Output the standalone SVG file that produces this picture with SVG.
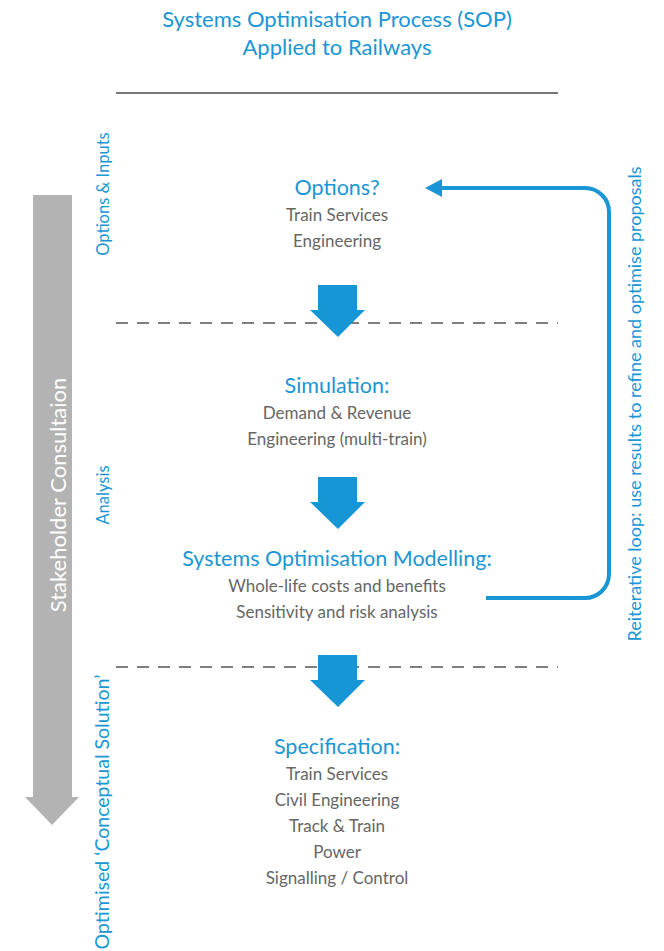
<svg xmlns="http://www.w3.org/2000/svg" width="664" height="951" viewBox="0 0 664 951">
<defs>
<style>
.t{font-family:Lato,"Open Sans","Liberation Sans",sans-serif;text-anchor:middle}
.h{fill:#1a96d4;font-size:21.5px}
.b{fill:#666;font-size:17px}
.side{fill:#1a96d4;font-size:16.5px}
.dash{stroke:#555;stroke-width:1.5;stroke-dasharray:12 9;fill:none}
.barrow{fill:#1796d5}
</style>
</defs>
<rect width="664" height="951" fill="#fff"/>
<g id="title">
<text class="t h" x="337" y="27" style="font-size:22px">Systems Optimisation Process (SOP)</text>
<text class="t h" x="337" y="55" style="font-size:22px">Applied to Railways</text>
</g>
<line x1="116" y1="93" x2="558" y2="93" stroke="#777" stroke-width="2"/>
<line class="dash" x1="116" y1="323" x2="558" y2="323"/>
<line class="dash" x1="116" y1="667" x2="558" y2="667"/>
<g id="stakeholder">
<path d="M33,195 H72 V797 H79 L52,825 L25,797 H33 Z" fill="#b3b3b4"/>
<text class="t" transform="translate(66,495) rotate(-90)" fill="#fff" font-size="22">Stakeholder Consultaion</text>
</g>
<g id="labels">
<text class="t side" transform="translate(109,194) rotate(-90)">Options &amp; Inputs</text>
<text class="t side" transform="translate(109,495) rotate(-90)">Analysis</text>
<text class="t side" transform="translate(109,812) rotate(-90)" style="font-size:19.5px">Optimised ‘Conceptual Solution’</text>
</g>
<g id="options">
<text class="t h" x="337" y="195">Options?</text>
<text class="t b" x="337" y="221">Train Services</text>
<text class="t b" x="337" y="247">Engineering</text>
</g>
<g id="simulation">
<text class="t h" x="337" y="393">Simulation:</text>
<text class="t b" x="337" y="419">Demand &amp; Revenue</text>
<text class="t b" x="337" y="445">Engineering (multi-train)</text>
</g>
<g id="som">
<text class="t h" x="337" y="566">Systems Optimisation Modelling:</text>
<text class="t b" x="337" y="592">Whole-life costs and benefits</text>
<text class="t b" x="337" y="618">Sensitivity and risk analysis</text>
</g>
<g id="specification">
<text class="t h" x="337" y="754">Specification:</text>
<text class="t b" x="337" y="780">Train Services</text>
<text class="t b" x="337" y="806">Civil Engineering</text>
<text class="t b" x="337" y="832">Track &amp; Train</text>
<text class="t b" x="337" y="858">Power</text>
<text class="t b" x="337" y="884">Signalling / Control</text>
</g>
<g id="connectors">
<path class="barrow" d="M318,285 H357 V310 H365 L338,337 L310,310 H318 Z"/>
<path class="barrow" d="M318,477 H357 V502 H365 L338,529 L310,502 H318 Z"/>
<path class="barrow" d="M318,655 H357 V680 H365 L338,707 L310,680 H318 Z"/>
<path d="M486,598 H585 A24,24 0 0 0 609,574 V212 A24,24 0 0 0 585,188 H440" fill="none" stroke="#1a96d4" stroke-width="4"/>
<path d="M442,179 L425,188 L442,197 Z" fill="#1a96d4"/>
</g>
<g id="loop-label">
<text class="t" transform="translate(641,404) rotate(-90)" fill="#1a96d4" font-size="18">Reiterative loop: use results to refine and optimise proposals</text>
</g>
</svg>
